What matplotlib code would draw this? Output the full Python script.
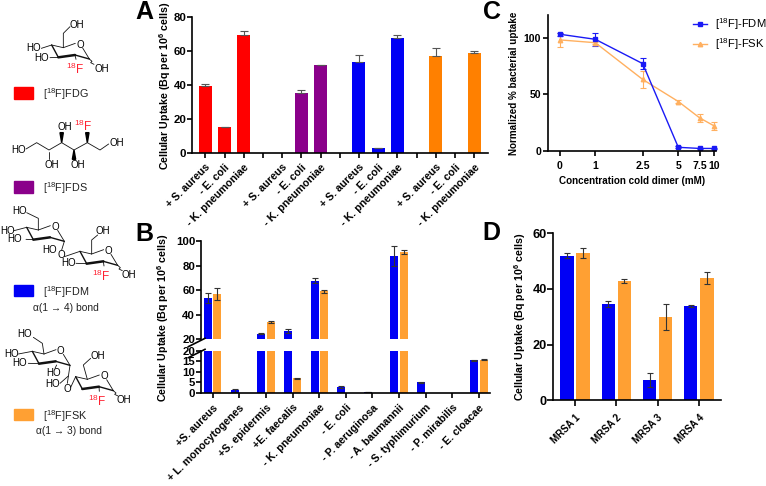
import numpy as np
import matplotlib
matplotlib.use("Agg")
import matplotlib.pyplot as plt
from matplotlib.lines import Line2D
from matplotlib.patches import Rectangle, Polygon

plt.rcParams['font.family'] = ['Liberation Sans', 'DejaVu Sans']
plt.rcParams['mathtext.fontset'] = 'custom'
plt.rcParams['mathtext.rm'] = 'Liberation Sans'
plt.rcParams['mathtext.bf'] = 'Liberation Sans:bold'
plt.rcParams['mathtext.it'] = 'Liberation Sans:italic'

# ---- data ----
a_labels = ['+ S. aureus', '- E. coli', '- K. pneumoniae']
fdg_vals = [39.5, 15, 69.5]; fdg_err = [1.3, 0.3, 2.5]
fds_vals = [0, 35.5, 51.5];  fds_err = [0, 1.7, 0.5]
fdm_vals = [53.5, 2.8, 67.5]; fdm_err = [4, 0.3, 1.8]
fsk_vals = [57, 0, 59]; fsk_err = [5, 0, 1]

b_labels = ['+S. aureus', '+ L. monocytogenes', '+S. epidermis', '+E. faecalis',
            '- K. pneumoniae', '- E. coli', '- P. aeruginosa', '- A. baumannii',
            '- S. typhimurium', '- P. mirabilis', '- E. cloacae']
b_fdm = [53.5, 1.2, 24.5, 27, 67.5, 2.8, 0.3, 88, 5, 0, 15.5]
b_fdm_err = [4, 0.8, 0.5, 1.5, 2, 0.6, 0.1, 8, 0.3, 0, 0.2]
b_fsk = [57, 0, 34, 6.8, 59, 0, 0, 91, 0, 0, 15.7]
b_fsk_err = [5, 0, 1, 0.2, 1, 0, 0, 1.5, 0, 0, 0.3]

c_conc = [0, 1, 2.5, 5, 7.5, 10]
c_fdm = [103, 98.5, 77, 3, 2, 2]; c_fdm_err = [1.5, 6, 5, 1, 0.5, 0.5]
c_fsk = [98, 95.5, 63, 43.5, 29, 22]; c_fsk_err = [6, 1, 7.5, 1, 3.5, 3.5]

d_labels = ['MRSA 1', 'MRSA 2', 'MRSA 3', 'MRSA 4']
d_fdm = [52, 34.7, 7.3, 34]; d_fdm_err = [1, 1, 2.6, 0.3]
d_fsk = [53, 43, 30, 44]; d_fsk_err = [1.8, 0.7, 4.6, 2.2]

RED, PURPLE, BLUE, ORANGE, ORANGE2 = '#ff0000', '#8a008a', '#0000f5', '#ff8000', '#ffa033'
C_BLUE, C_ORANGE = '#1a1af5', '#ffb060'
W, H = 766, 486
fig = plt.figure(figsize=(W / 100, H / 100), dpi=100)
FS_LAB = 7.7
YLAB = r'Cellular Uptake (Bq per 10$^{\mathbf{6}}$ cells)'


def ax_px(x0, x1, top, bottom, size=8.2, length=3.6, pad=0.4):
    a = fig.add_axes([x0 / W, 1 - bottom / H, (x1 - x0) / W, (bottom - top) / H])
    a.patch.set_alpha(0)
    a.spines[['top', 'right']].set_visible(False)
    a.spines[['left', 'bottom']].set_linewidth(1.2)
    a.tick_params(width=1.2, length=length, labelsize=size, pad=pad)
    return a


def bold_ticks(a):
    for t in a.get_xticklabels() + a.get_yticklabels():
        t.set_fontweight('bold')


def rot_labels(a, labels, size, pad):
    a.set_xticklabels(labels, rotation=45, ha='right', rotation_mode='anchor',
                      fontsize=size, fontweight='bold')
    a.tick_params(axis='x', pad=pad)


EB = dict(ecolor='#333333', elinewidth=0.8, capsize=2.4, capthick=0.8)
EB_A = dict(ecolor='#555555', elinewidth=0.8, capsize=2.6, capthick=0.8)

# ---- panel A ----
axA = ax_px(192, 488, 17, 153)
pos = 0
for vals, errs, col in [(fdg_vals, fdg_err, RED), (fds_vals, fds_err, PURPLE),
                        (fdm_vals, fdm_err, BLUE), (fsk_vals, fsk_err, ORANGE)]:
    xs = np.arange(pos, pos + 3)
    axA.bar(xs, vals, width=0.68, color=col)
    keep = [i for i, e in enumerate(errs) if e > 0]
    axA.errorbar(xs[keep], np.array(vals)[keep], yerr=[[0] * len(keep), np.array(errs)[keep]],
                 fmt='none', **EB_A)
    pos += 4
axA.set_xlim(-0.693, 14.72)
axA.set_ylim(0, 80)
axA.set_yticks([0, 20, 40, 60, 80])
axA.set_xticks(np.arange(15))
tl = []
for i in range(15):
    tl.append('' if i % 4 == 3 else a_labels[i % 4])
rot_labels(axA, tl, FS_LAB, 3.0)
bold_ticks(axA)

# ---- panel B (broken axis) ----
bx = np.arange(len(b_labels))
bx0, bx1 = (200.7 - 212.7) / 26.63, (490 - 212.7) / 26.63
axBt = ax_px(200.7, 490, 241, 339.3)
axBb = ax_px(200.7, 490, 350.7, 392.7)
for a in (axBt, axBb):
    a.bar(bx - 0.177, b_fdm, width=0.3, color=BLUE)
    a.bar(bx + 0.177, b_fsk, width=0.3, color=ORANGE2)
    a.set_xlim(bx0, bx1)
for a, lim in ((axBt, 20), (axBb, 0)):
    for off, v, e in ((-0.177, b_fdm, b_fdm_err), (0.177, b_fsk, b_fsk_err)):
        keep = [i for i in bx if e[i] > 0 and (v[i] > 20) == (lim == 20)]
        a.errorbar(bx[keep] + off, np.array(v)[keep], yerr=np.array(e)[keep], fmt='none', **EB)
axBt.set_ylim(20, 100)
axBb.set_ylim(0, 20)
axBt.set_yticks([20, 40, 60, 80, 100])
axBb.set_yticks([0, 5, 10, 15, 20])
axBt.spines['bottom'].set_visible(False)
axBt.set_xticks([])
axBb.set_xticks(bx)
rot_labels(axBb, b_labels, FS_LAB, 3.5)
bold_ticks(axBt)
bold_ticks(axBb)

# ---- panel C ----
c_knots = np.array([-1, 0, 1, 2.5, 5, 7.5, 10, 11])
c_px = np.array([524.1, 559.7, 595.3, 642.7, 678.3, 699.7, 714, 719.7])
axC = ax_px(548.3, 716, 15, 150.7, size=7.6, pad=1.5)
axC.set_xscale('function', functions=(lambda v: np.interp(v, c_knots, c_px),
                                      lambda p: np.interp(p, c_px, c_knots)))
axC.errorbar(c_conc, c_fsk, yerr=c_fsk_err, color=C_ORANGE, lw=1, marker='^', ms=3.2,
             capsize=2, elinewidth=0.8, capthick=0.8, clip_on=False)
axC.errorbar(c_conc, c_fdm, yerr=c_fdm_err, color=C_BLUE, lw=1, marker='s', ms=3.4,
             capsize=2, elinewidth=0.8, capthick=0.8, clip_on=False)
axC.set_xlim(np.interp(548.3, c_px, c_knots), np.interp(716, c_px, c_knots))
axC.set_ylim(0, 120)
axC.set_yticks([0, 50, 100])
axC.set_xticks(c_conc)
axC.set_xticklabels(['0', '1', '2.5', '5', '7.5', '10'])
axC.minorticks_off()
axC.tick_params(axis='x', pad=4)
bold_ticks(axC)
axC.set_xlabel('Concentration cold dimer (mM)', fontsize=7.1, fontweight='bold', labelpad=3.5)
leg_handles = [Line2D([], [], color=C_BLUE, lw=1, marker='s', ms=3.4),
               Line2D([], [], color=C_ORANGE, lw=1, marker='^', ms=3.2)]
fig.legend(leg_handles, [r'[$^{18}$F]-FDM', r'[$^{18}$F]-FSK'], loc='upper left',
           bbox_to_anchor=(693 / W, 1 - 16 / H), frameon=False,
           fontsize=8.1, handlelength=1.24, handletextpad=0.72, labelspacing=0.42,
           borderaxespad=0, borderpad=0)

# ---- panel D ----
dx = np.arange(len(d_labels))
d0, d1 = (553.3 - 575) / 41.3, (721 - 575) / 41.3
axD = ax_px(553.3, 721, 233.3, 400.3, size=9.2, length=4.4)
axD.bar(dx - 0.194, d_fdm, width=0.32, color=BLUE)
axD.bar(dx + 0.194, d_fsk, width=0.32, color=ORANGE2)
axD.errorbar(dx - 0.194, d_fdm, yerr=d_fdm_err, fmt='none', **EB)
axD.errorbar(dx + 0.194, d_fsk, yerr=d_fsk_err, fmt='none', **EB)
axD.set_xlim(d0, d1)
axD.set_ylim(0, 60)
axD.set_yticks([0, 20, 40, 60])
axD.set_xticks(dx)
rot_labels(axD, d_labels, 7.0, 4.5)
bold_ticks(axD)

# ---- overlay: texts & structures, coordinates in 3x pixels ----
ov = fig.add_axes([0, 0, 1, 1], zorder=10)
ov.set_xlim(0, W * 3); ov.set_ylim(H * 3, 0); ov.axis('off'); ov.patch.set_alpha(0)

for ch, x, y in [('A', 405, 36), ('B', 405, 703), ('C', 1448, 36), ('D', 1448, 700)]:
    ov.text(x, y, ch, fontsize=18, fontweight='bold', ha='left', va='center')

fig.text(165.5 / W, 1 - 85.5 / H, YLAB, rotation=90, fontsize=FS_LAB, fontweight='bold', ha='center', va='center')
fig.text(163 / W, 1 - 318 / H, YLAB, rotation=90, fontsize=FS_LAB, fontweight='bold', ha='center', va='center')
fig.text(514 / W, 1 - 83 / H, 'Normalized % bacterial uptake', rotation=90, fontsize=7.15,
         fontweight='bold', ha='center', va='center')
fig.text(520 / W, 1 - 317 / H, YLAB, rotation=90, fontsize=FS_LAB, fontweight='bold', ha='center', va='center')

# break marks on panel B
ov.plot([565, 615], [1040, 1015], color='k', lw=1.2)
ov.plot([565, 615], [1073, 1048], color='k', lw=1.2)


def T(x, y, s, c='k', fs=7.0):
    ov.text(x, y, s, color=c, fontsize=fs, ha='center', va='center')


def L(*pts, lw=0.6):
    xs, ys = zip(*pts)
    ov.plot(xs, ys, color='#111111', lw=lw, solid_capstyle='round')


def ring(dx, dy):
    p = dict(c5=(190, 143), o=(226, 130), c1=(268, 177), c2=(225, 165), c3=(175, 172), c4=(155, 135))
    p = {k: (v[0] + dx, v[1] + dy) for k, v in p.items()}
    L(p['c4'], p['c5']); L(p['c5'], p['o']); L((p['o'][0] + 22, p['o'][1] + 14), p['c1'])
    L(p['c1'], p['c2'], lw=1.0); L(p['c2'], p['c3'], lw=1.8); L(p['c3'], p['c4'], lw=1.0)
    T(p['o'][0] + 14, p['o'][1] + 4, 'O')
    return p


def wavy(p):
    L(p, (p[0] + 8, p[1] + 7), (p[0] + 4, p[1] + 11), (p[0] + 14, p[1] + 16))


F18 = r'$^{18}$F'
FR = '#ff2030'
# FDG
p = ring(0, 0)
L(p['c5'], (190, 100), (210, 80))
T(229, 75, 'OH'); T(100, 145, 'HO'); T(126, 173, 'HO'); T(306, 206, 'OH')
L(p['c4'], (124, 145)); L(p['c3'], (150, 173)); L(p['c2'], (228, 178)); wavy(p['c1'])
T(226, 207, F18, FR, 8.5)
ov.add_patch(Rectangle((42, 262), 56, 35, color=RED))
T(197, 282, r'[$^{18}$F]FDG', '#222222', 7.8)

# FDS
L((78, 447), (110, 428), (147, 450), (185, 428), (222, 450), (262, 428), (300, 450), (326, 432))
T(57, 450, 'HO'); T(350, 428, 'OH'); T(194, 382, 'OH'); T(155, 495, 'OH'); T(233, 495, 'OH')
T(250, 380, F18, FR, 8.5)
L((147, 455), (147, 478))
ov.add_patch(Polygon([(185, 428), (180, 398), (190, 398)], color='k'))
ov.add_patch(Polygon([(222, 450), (217, 478), (227, 478)], color='k'))
ov.add_patch(Polygon([(262, 428), (257, 398), (267, 398)], color='k'))
ov.add_patch(Rectangle((42, 543), 56, 35, color=PURPLE))
T(197, 563, r'[$^{18}$F]FDS', '#222222', 7.8)

# FDM
p = ring(-75, 547)
L(p['c5'], (115, 655), (80, 638)); T(58, 632, 'HO')
T(22, 693, 'HO'); L(p['c4'], (42, 692))
L(p['c3'], (78, 718)); T(45, 718, 'HO')
L(p['c1'], (185, 750))
p = ring(85, 619)
L(p['c5'], (275, 720), (293, 705)); T(308, 692, 'OH')
L((193, 770), p['c4']); T(184, 764, 'O'); T(148, 750, 'HO')
L(p['c3'], (228, 790)); T(205, 790, 'HO')
L(p['c2'], (312, 798)); wavy(p['c1'])
T(305, 829, F18, FR, 8.5); T(385, 825, 'OH')
ov.add_patch(Rectangle((42, 854), 56, 35, color=BLUE))
T(197, 876, r'[$^{18}$F]FDM', '#222222', 7.8)
T(197, 923, '\u03b1(1 \u2192 4) bond', '#222222', 7.4)

# FSK
p = ring(-58, 919)
L(p['c5'], (127, 1030), (100, 1012)); T(73, 1002, 'HO')
L(p['c4'], (55, 1062)); T(35, 1062, 'HO')
L(p['c3'], (85, 1090)); T(60, 1090, 'HO')
L(p['c1'], (202, 1150)); T(160, 1118, 'HO'); L((165, 1105), (170, 1095))
p = ring(72, 995)
L(p['c5'], (250, 1095), (272, 1075)); T(293, 1067, 'OH')
L((212, 1162), p['c4']); T(201, 1166, 'O'); T(158, 1153, 'HO')
L((180, 1150), (205, 1128))
L(p['c2'], (298, 1174)); wavy(p['c1'])
T(291, 1203, F18, FR, 8.5); T(370, 1200, 'OH')
ov.add_patch(Rectangle((42, 1226), 56, 35, color=ORANGE2))
T(197, 1247, r'[$^{18}$F]FSK', '#222222', 7.8)
T(208, 1293, '\u03b1(1 \u2192 3) bond', '#222222', 7.4)

fig.savefig('out.png', dpi=100)
